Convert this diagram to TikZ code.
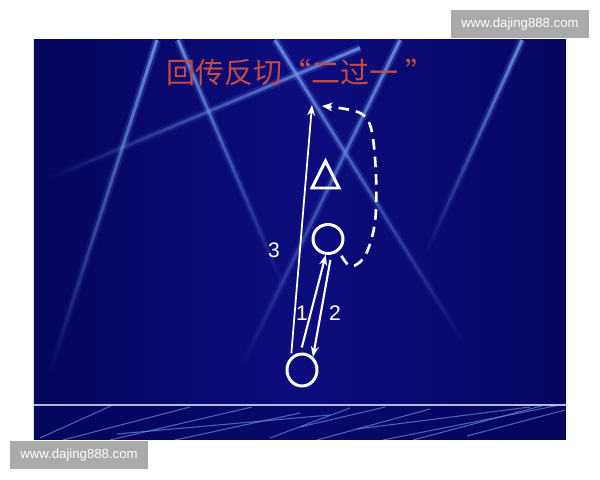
\documentclass[tikz,border=0pt]{standalone}
\usepackage{fontspec}
\setmainfont{Liberation Sans}
\newfontfamily\cjk{Noto Sans CJK SC}
\usetikzlibrary{shapes.geometric,fadings,arrows.meta}

\definecolor{slide}{RGB}{12,12,126}
\definecolor{slidedark}{RGB}{6,6,92}
\definecolor{beam}{RGB}{110,150,232}
\definecolor{titlered}{RGB}{196,74,66}
\definecolor{wmgray}{RGB}{170,170,170}

\tikzfading[name=raydown, top color=transparent!0, middle color=transparent!20, bottom color=transparent!100]
\tikzfading[name=rayleft, right color=transparent!0, middle color=transparent!20, left color=transparent!100]

\begin{document}
\begin{tikzpicture}[x=0.02cm, y=-0.02cm,
    player/.style={ellipse, draw=white, line width=1.7pt, inner sep=0pt},
    pass/.style={-{Stealth[length=6pt, width=4.5pt]}, white, line width=1.2pt},
    run/.style={-{Stealth[length=6pt, width=5pt]}, white, line width=1.5pt, dash pattern=on 6pt off 4pt},
    num/.style={text=white, font=\fontsize{12}{14}\selectfont},
    ray/.style={beam, line width=1.8pt, opacity=0.85},
    glow/.style={beam, line width=4.5pt, opacity=0.25},
    floorline/.style={beam, line width=0.6pt, opacity=0.65},
    wm/.style={fill=wmgray, text=white, minimum width=2.76cm, minimum height=0.57cm, font=\fontsize{7.5}{9}\selectfont}]

\useasboundingbox (0,0) rectangle (600,480);
\fill[white] (0,0) rectangle (600,480);

% slide
\shade[left color=slidedark, right color=slidedark!85!slide, middle color=slide] (34,40) rectangle (566,440);
\begin{scope}
    \clip (34,40) rectangle (566,440);
    \foreach \xa/\ya/\xb/\yb/\fd in {157/40/50/372/raydown, 178/40/285/290/raydown, 360/48/45/180/rayleft,
                                    400/40/240/370/raydown, 275/40/465/345/raydown, 522/40/425/255/raydown} {
        \draw[glow, path fading=\fd] (\xa,\ya) -- (\xb,\yb);
        \draw[ray, path fading=\fd] (\xa,\ya) -- (\xb,\yb);
    }
    % floor
    \fill[slidedark, opacity=0.6] (34,405) rectangle (566,440);
    \foreach \xa/\ya/\xb/\yb in {40/438/113/405, 63/440/190/407, 110/440/252/407, 117/434/330/415,
                                175/440/300/413, 270/438/350/408, 300/427/385/407, 317/440/430/409,
                                357/429/530/407, 383/440/565/404, 413/440/545/405, 467/436/565/410}
        \draw[floorline] (\xa,\ya) -- (\xb,\yb);
    \draw[white!70!slide, line width=0.8pt] (34,405) -- (566,405);
\end{scope}

% title
\node[text=titlered, anchor=west, inner sep=0pt, font=\cjk\fontsize{16.5}{18}\selectfont] (title) at (166,72) {回传反切“二过一\kern4pt”};

% players
\node[player, minimum width=0.60cm, minimum height=0.58cm] (o1) at (328,239) {};
\node[player, minimum width=0.60cm, minimum height=0.64cm] (o2) at (302,370) {};
\draw[white, line width=1.7pt] (312,188) -- (325.5,161) -- (339,188) -- cycle;

\coordinate (g) at (312,105);
\coordinate (r) at (322,106);

% passes and run
\draw[pass, line width=1pt, shorten <=2pt] (o2.130) -- (g);
\draw[pass, shorten <=3pt] (o2.95) -- (o1.262);
\draw[pass, shorten <=3pt] (o1.282) -- (o2.50);
\draw[run, shorten <=3pt] plot[smooth, tension=0.55] coordinates {(o1.-50) (352,266) (366,254) (375,222) (376,175) (371,128) (358,112) (r)};

\node[num] (n3) at (274,250) {3};
\node[num] (n1) at (302,313) {1};
\node[num] (n2) at (335,313) {2};

% watermarks
\node[wm] (w1) at (520,24) {www.dajing888.com};
\node[wm] (w2) at (79,455) {www.dajing888.com};
\end{tikzpicture}
\end{document}
